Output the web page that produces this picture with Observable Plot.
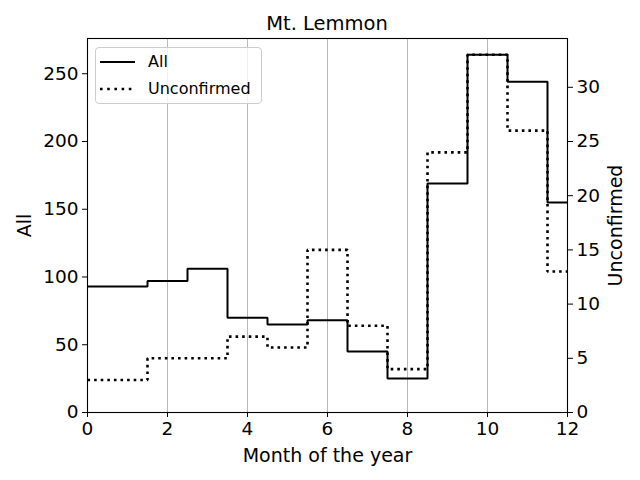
<!DOCTYPE html>
<html>
<head>
<meta charset="utf-8">
<script src="https://cdn.jsdelivr.net/npm/d3@7"></script>
<script src="https://cdn.jsdelivr.net/npm/@observablehq/plot@0.6"></script>
<style>
  body { margin: 0; background: white; font-family: "DejaVu Sans", sans-serif; }
  #fig { position: relative; width: 640px; height: 480px; overflow: hidden; background: white; }
  #title { position: absolute; left: 87px; width: 480px; top: 14px; text-align: center; font-size: 19.5px; line-height: 19.5px; color: #000; }
  .layer { position: absolute; left: 0; top: 30px; }
  #legend { position: absolute; left: 95px; top: 47px; width: 165px; height: 55px; border: 1px solid #cccccc; border-radius: 4px; background: rgba(255,255,255,0.8); }
  .lrow { position: absolute; left: 0; height: 20px; font-size: 16px; line-height: 20px; }
  .lrow svg { position: absolute; left: 4px; top: 0; }
  .lrow span { position: absolute; left: 52px; top: 0; white-space: nowrap; }
</style>
</head>
<body>
<div id="fig">
  <div id="title">Mt. Lemmon</div>
  <div id="base" class="layer"></div>
  <div id="over" class="layer"></div>
  <div id="legend">
    <div class="lrow" style="top:4px"><svg width="40" height="20"><line x1="0" x2="35" y1="10" y2="10" stroke="black" stroke-width="2"/></svg><span>All</span></div>
    <div class="lrow" style="top:31px"><svg width="40" height="20"><line x1="0" x2="35" y1="10" y2="10" stroke="black" stroke-width="2.6" stroke-dasharray="2.6,4.6"/></svg><span>Unconfirmed</span></div>
  </div>
</div>
<script>
// ---- data ----
const months = [1, 2, 3, 4, 5, 6, 7, 8, 9, 10, 11, 12];
const allCounts = [93, 97, 106, 70, 65, 68, 45, 25, 169, 264, 244, 155];
const unconfirmedCounts = [3, 5, 5, 7, 6, 15, 8, 4, 24, 33, 26, 13];
const xTicks = [0, 2, 4, 6, 8, 10, 12];
const leftTicks = [0, 50, 100, 150, 200, 250];
const rightTicks = [0, 5, 10, 15, 20, 25, 30];

const xDomain = [0, 12];
const leftDomain = [0, 276];
const rightDomain = [0, 34.5];

// step series, extended to the left edge of the x domain with the first value
function series(vals) {
  const rows = months.map((m, i) => ({month: m, value: vals[i]}));
  return [{month: xDomain[0], value: vals[0]}, ...rows];
}
const allData = series(allCounts);
const uncData = series(unconfirmedCounts);

const W = 640, H = 450;
const common = {
  width: W, height: H,
  marginLeft: 87, marginRight: 73, marginTop: 8, marginBottom: 68,
  style: {fontFamily: "DejaVu Sans, sans-serif", fontSize: "18.5px", color: "black", background: "transparent", overflow: "visible"}
};

const base = Plot.plot({
  ...common,
  x: {domain: xDomain},
  y: {domain: leftDomain},
  marks: [
    Plot.gridX(xTicks, {stroke: "#b0b0b0", strokeOpacity: 1, strokeWidth: 0.9}),
    Plot.line(allData, {x: "month", y: "value", curve: "step", stroke: "black", strokeWidth: 2, strokeLinecap: "butt", strokeLinejoin: "miter", clip: true}),
    Plot.axisX(xTicks, {tickSize: 5, tickPadding: 4, label: null, fontSize: 18.5, strokeWidth: 1}),
    Plot.axisY(leftTicks, {anchor: "left", tickSize: 5, tickPadding: 4, label: null, fontSize: 18.5, strokeWidth: 1}),
    Plot.text(["Month of the year"], {frameAnchor: "bottom", dy: 43, fontSize: 19, lineAnchor: "middle", textAnchor: "middle", fill: "black"}),
    Plot.text(["All"], {frameAnchor: "left", dx: -63, rotate: -90, fontSize: 19, lineAnchor: "middle", textAnchor: "middle", fill: "black"}),
    Plot.frame({stroke: "black", strokeWidth: 1.1})
  ]
});
document.getElementById("base").appendChild(base);

const over = Plot.plot({
  ...common,
  x: {domain: xDomain, axis: null},
  y: {domain: rightDomain, axis: null},
  marks: [
    Plot.line(uncData, {x: "month", y: "value", curve: "step", stroke: "black", strokeWidth: 2.6, strokeDasharray: "2.6,4.0", strokeLinecap: "butt", strokeLinejoin: "miter", clip: true}),
    Plot.axisY(rightTicks, {anchor: "right", tickSize: 5, tickPadding: 4, label: null, fontSize: 18.5, strokeWidth: 1}),
    Plot.text(["Unconfirmed"], {frameAnchor: "right", dx: 48, rotate: -90, fontSize: 19, lineAnchor: "middle", textAnchor: "middle", fill: "black"})
  ]
});
document.getElementById("over").appendChild(over);
</script>
</body>
</html>
